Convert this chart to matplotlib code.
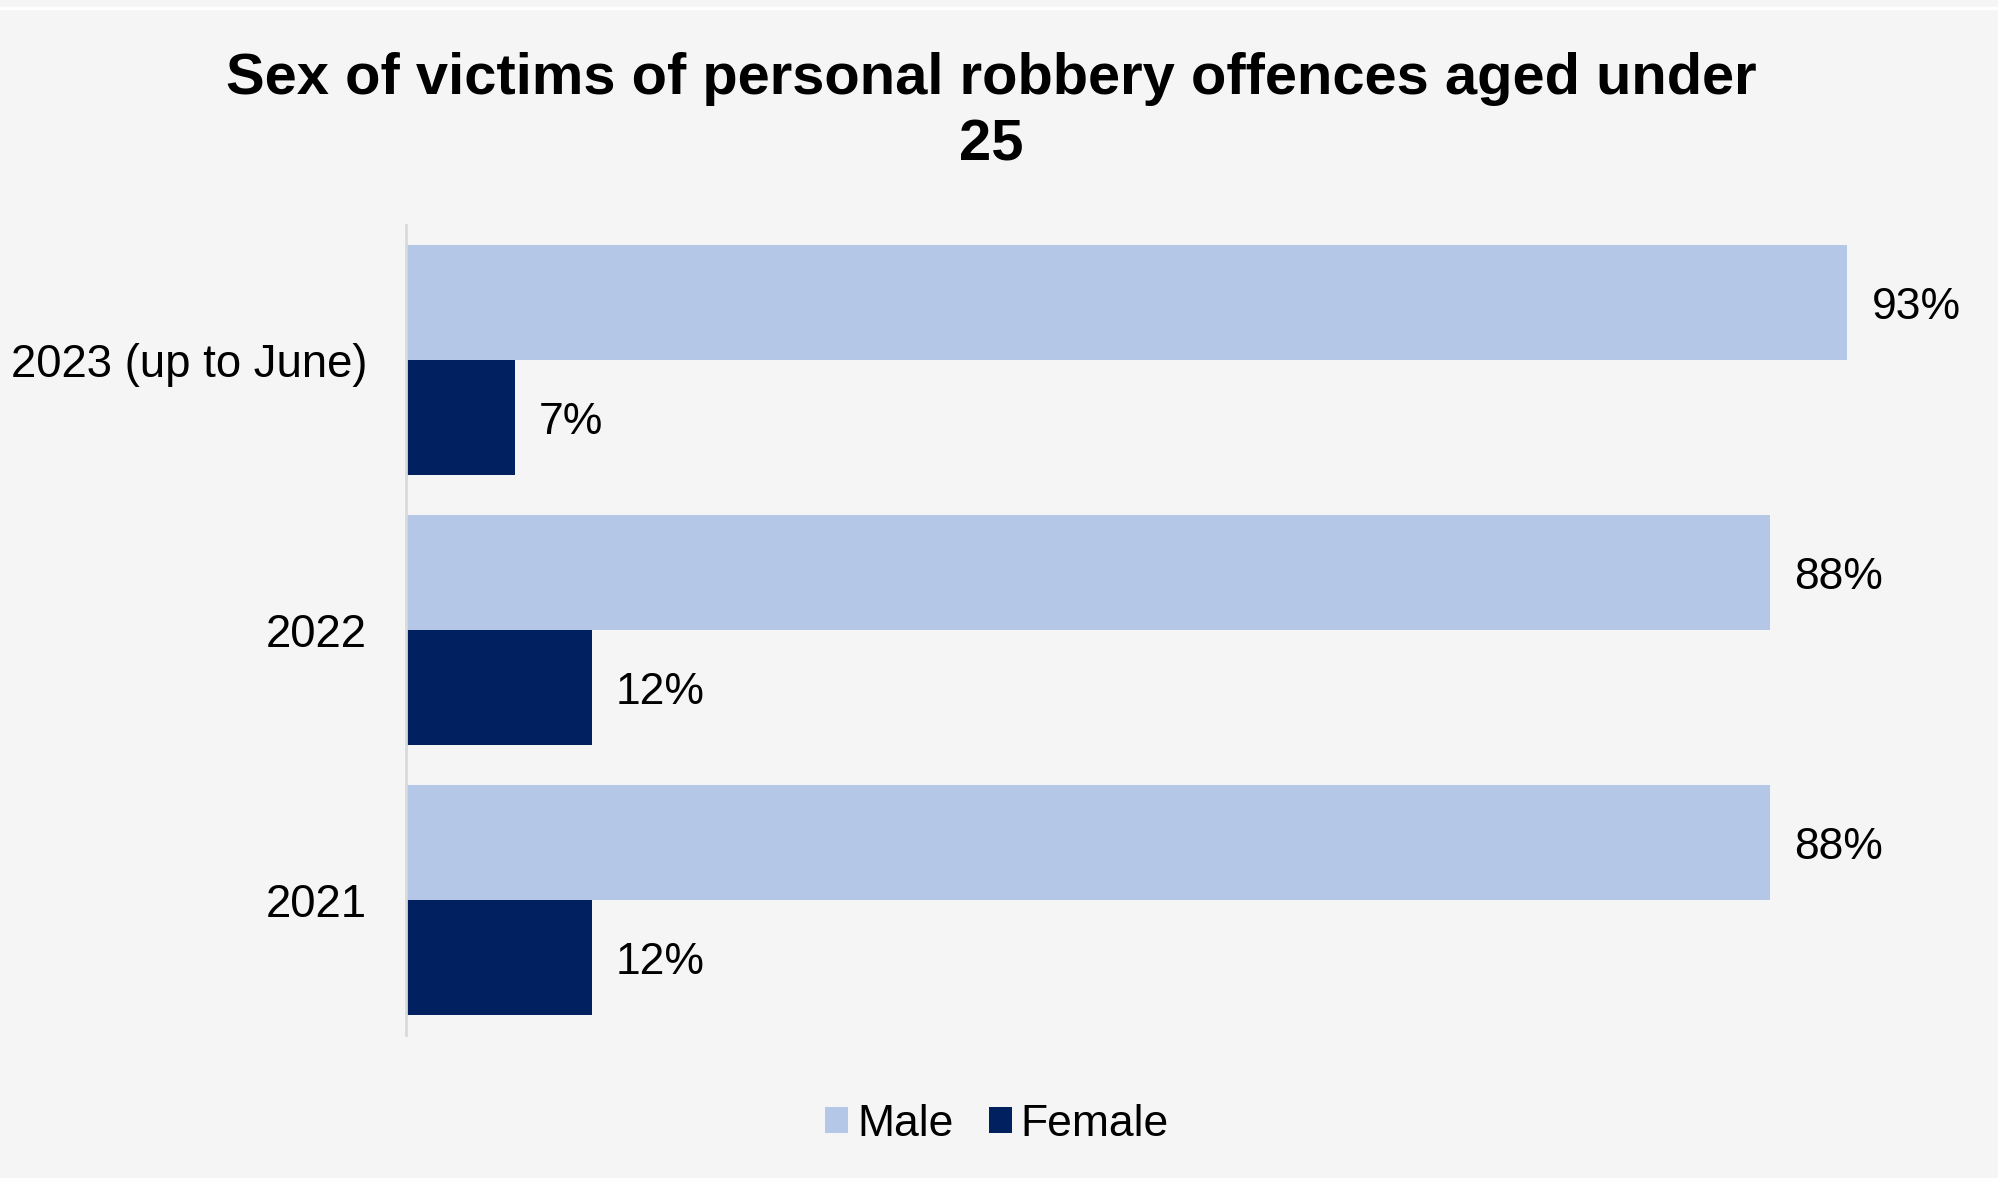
import matplotlib.pyplot as plt
import numpy as np
from matplotlib.lines import Line2D

plt.rcParams['font.family'] = ['Liberation Sans', 'DejaVu Sans']

# data
years = ['2023 (up to June)', '2022', '2021']
male = [93, 88, 88]
female = [7, 12, 12]

MALE_COLOR = '#b4c7e7'
FEMALE_COLOR = '#002060'
BG = '#f5f5f5'

fig = plt.figure(figsize=(19.98, 11.78), dpi=100, facecolor=BG)
ax = fig.add_axes([406 / 1998, 1 - 1035 / 1178, 1550 / 1998, 810 / 1178])
ax.set_facecolor(BG)

# first category at the top
pos = np.arange(len(years))[::-1]
h = 0.426
bars_m = ax.barh(pos + h / 2, male, height=h, color=MALE_COLOR, label='Male')
bars_f = ax.barh(pos - h / 2, female, height=h, color=FEMALE_COLOR, label='Female')

for bars, vals in ((bars_m, male), (bars_f, female)):
    for b, v in zip(bars, vals):
        ax.annotate(f'{v}%', (b.get_width() + 1.55, b.get_y() + b.get_height() / 2),
                    xytext=(0, -3.5), textcoords='offset points',
                    va='center', ha='left', fontsize=32, color='#000000')

ax.set_xlim(0, 100)
ax.set_ylim(-0.5, 2.5)
ax.set_yticks(pos)
ax.set_yticklabels(years, fontsize=32.8)
ax.tick_params(axis='y', length=0, pad=28)
ax.set_xticks([])
for s in ('top', 'right', 'bottom'):
    ax.spines[s].set_visible(False)
ax.spines['left'].set_color('#d9d9d9')
ax.spines['left'].set_linewidth(2)

fig.text(0.496, 1 - 112 / 1178, 'Sex of victims of personal robbery offences aged under\n25',
         ha='center', va='center', fontsize=41.7, fontweight='bold', linespacing=1.3)

fig.legend(handles=[bars_m, bars_f], labels=['Male', 'Female'], loc='center',
           bbox_to_anchor=(0.499, 1 - 1124 / 1178), ncol=2, frameon=False, fontsize=32,
           handlelength=0.52, handleheight=0.52, handletextpad=0.2, columnspacing=0.8)

# thin white strip near the top edge
fig.add_artist(Line2D([0, 1], [1 - 8 / 1178] * 2, color='white', linewidth=2.5,
                      transform=fig.transFigure))

plt.savefig('out.png', dpi=100, facecolor=BG)
